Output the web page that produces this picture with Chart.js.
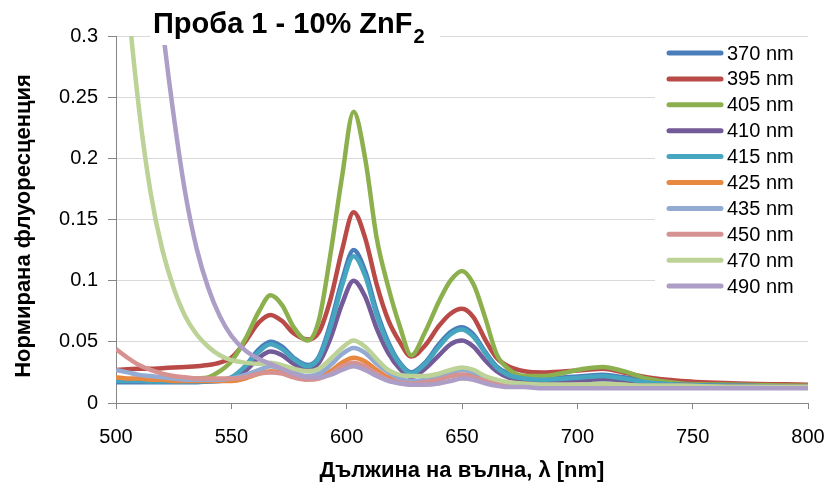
<!DOCTYPE html>
<html>
<head>
<meta charset="utf-8">
<script src="https://cdn.jsdelivr.net/npm/chart.js@4.4.1/dist/chart.umd.min.js"></script>
<style>
  body { margin: 0; background: #fff; }
  #wrap { width: 830px; height: 488px; }
</style>
</head>
<body>
<div id="wrap"><canvas id="grafik" width="830" height="488"></canvas></div>
<script>
// ДАННИ
const wavelengths = [500, 505, 510, 515, 520, 525, 530, 535, 540, 545, 550, 556, 562, 567, 572, 577, 583, 588, 593, 598,
  603, 608, 613, 618, 623, 628, 634, 640, 645, 650, 655, 660, 665, 670, 677, 685, 695, 703, 711, 720, 730, 745, 770, 800];

const s370 = [.017, .017, .017, .017, .017, .017, .017, .017, .0175, .018, .020, .030, .044, .050, .046, .037, .031, .038, .065, .100,
  .125, .108, .075, .050, .033, .025, .033, .048, .058, .062, .056, .042, .030, .024, .021, .020, .021, .022, .023, .021, .018, .016, .014, .013];
const s395 = [.027, .0275, .028, .028, .0285, .029, .0295, .030, .031, .033, .037, .050, .066, .072, .067, .057, .052, .058, .085, .125,
  .156, .135, .097, .068, .050, .038, .047, .063, .073, .077, .070, .052, .037, .030, .026, .025, .026, .027, .028, .025, .021, .018, .016, .015];
const s405 = [.019, .019, .019, .019, .019, .019, .019, .020, .021, .026, .034, .052, .075, .088, .080, .062, .051, .068, .122, .185,
  .238, .200, .135, .095, .063, .039, .058, .083, .100, .108, .097, .070, .040, .028, .022, .022, .025, .028, .0295, .026, .020, .016, .015, .014];
const s410 = [.018, .018, .018, .018, .018, .018, .018, .018, .018, .019, .020, .026, .037, .042, .039, .032, .028, .033, .053, .081,
  .100, .087, .061, .041, .028, .021, .028, .039, .048, .051, .046, .035, .026, .021, .019, .018, .018, .019, .019, .018, .016, .015, .014, .013];
const s415 = [.018, .018, .018, .0175, .0175, .0175, .0175, .0175, .018, .0185, .021, .030, .042, .048, .044, .036, .030, .037, .062, .096,
  .120, .104, .072, .048, .032, .024, .032, .046, .056, .060, .054, .041, .029, .023, .020, .019, .020, .021, .022, .020, .017, .015, .014, .013];
const s425 = [.021, .020, .020, .019, .019, .018, .018, .018, .018, .018, .018, .020, .024, .026, .025, .022, .020, .021, .026, .033,
  .037, .034, .027, .021, .018, .017, .018, .020, .022, .023, .022, .019, .017, .016, .015, .015, .015, .015, .015, .015, .014, .014, .013, .013];
const s435 = [.027, .025, .023, .022, .021, .020, .019, .019, .019, .019, .020, .023, .027, .030, .028, .025, .022, .024, .031, .040,
  .045, .041, .032, .025, .020, .018, .019, .022, .025, .027, .025, .021, .018, .016, .015, .015, .015, .015, .016, .015, .014, .014, .013, .013];
const s450 = [.044, .037, .031, .027, .024, .022, .021, .020, .020, .020, .020, .021, .024, .025, .024, .021, .019, .020, .024, .030,
  .033, .030, .024, .019, .017, .016, .017, .019, .022, .023, .021, .018, .016, .015, .014, .014, .014, .014, .014, .014, .013, .013, .013, .013];
const s470 = [.48, .335, .24, .172, .126, .094, .071, .056, .046, .039, .035, .033, .032, .033, .031, .028, .026, .028, .036, .045,
  .051, .046, .036, .027, .023, .022, .022, .024, .027, .029, .027, .022, .019, .017, .016, .015, .015, .015, .016, .015, .014, .014, .013, .013];
const s490 = [.80, .64, .51, .40, .31, .235, .172, .126, .094, .071, .055, .043, .036, .032, .028, .024, .021, .021, .023, .027,
  .030, .027, .022, .018, .016, .015, .015, .016, .018, .020, .019, .016, .014, .013, .013, .012, .012, .012, .012, .012, .012, .012, .012, .012];

const serii = [s370, s395, s405, s410, s415, s425, s435, s450, s470, s490];
const etiketi = ["370 nm", "395 nm", "405 nm", "410 nm", "415 nm", "425 nm", "435 nm", "450 nm", "470 nm", "490 nm"];
const cvetove = ["#4A7EBB", "#BA4A47", "#8DB04F", "#735A98", "#46A5BF", "#E8873F", "#93AAD2", "#D69290", "#BCD296", "#AC9EC6"];

const SHRIFT = "'Liberation Sans', Arial, sans-serif";

// заглавия и легенда, рисувани върху платното
const nadpisi = {
  id: "nadpisi",
  afterDatasetsDraw(chart) {
    const ctx = chart.ctx;
    ctx.save();

    // заглавие
    ctx.fillStyle = "#fff";
    ctx.fillRect(150, 0, 290, 45);
    ctx.fillStyle = "#000";
    ctx.textBaseline = "alphabetic";
    ctx.textAlign = "left";
    ctx.font = "bold 29px " + SHRIFT;
    const glaven = "Проба 1 - 10% ZnF";
    ctx.fillText(glaven, 153, 33);
    const w = ctx.measureText(glaven).width;
    ctx.font = "bold 20px " + SHRIFT;
    ctx.fillText("2", 153 + w + 1, 43);

    // легенда
    ctx.fillStyle = "#fff";
    ctx.fillRect(655, 40, 175, 258);
    ctx.font = "20px " + SHRIFT;
    ctx.textBaseline = "middle";
    ctx.lineCap = "round";
    etiketi.forEach((t, i) => {
      const y = 53 + i * 25.9;
      ctx.strokeStyle = cvetove[i];
      ctx.lineWidth = 5;
      ctx.beginPath();
      ctx.moveTo(669, y);
      ctx.lineTo(721, y);
      ctx.stroke();
      ctx.fillStyle = "#000";
      ctx.fillText(t, 727, y + 1);
    });

    // надписи на осите
    ctx.font = "bold 22px " + SHRIFT;
    ctx.textAlign = "center";
    ctx.textBaseline = "alphabetic";
    ctx.fillText("Дължина на вълна, λ [nm]", 462, 477);
    ctx.translate(30, 226);
    ctx.rotate(-Math.PI / 2);
    ctx.fillText("Нормирана флуоресценция", 0, 0);
    ctx.restore();
  }
};

const datasets = serii.map((vals, i) => ({
  label: etiketi[i],
  data: wavelengths.map((x, j) => ({ x: x, y: vals[j] })),
  borderColor: cvetove[i],
  backgroundColor: cvetove[i],
  borderWidth: 4.5,
  pointRadius: 0,
  cubicInterpolationMode: "monotone",
  fill: false,
  order: serii.length - i
}));

new Chart(document.getElementById("grafik"), {
  type: "line",
  data: { datasets },
  options: {
    responsive: false,
    animation: false,
    devicePixelRatio: 1,
    layout: { padding: { top: 36, right: 22, left: 0, bottom: 0 } },
    plugins: {
      legend: { display: false },
      tooltip: { enabled: false },
      title: { display: false }
    },
    scales: {
      x: {
        type: "linear",
        min: 500,
        max: 800,
        afterFit: (s) => { s.height = 85; s.paddingLeft = 0; s.paddingRight = 0; },
        ticks: { stepSize: 50, color: "#000", font: { family: SHRIFT, size: 20 }, padding: 16, maxRotation: 0 },
        grid: { drawOnChartArea: false, drawTicks: true, tickLength: 6, tickColor: "#868686" },
        border: { color: "#868686", width: 1 }
      },
      y: {
        min: 0,
        max: 0.3,
        afterFit: (s) => { s.width = 116; s.paddingTop = 0; s.paddingBottom = 0; },
        ticks: {
          stepSize: 0.05,
          color: "#000",
          font: { family: SHRIFT, size: 20 },
          padding: 10,
          callback: (v) => String(+v.toFixed(2))
        },
        grid: { color: "#D9D9D9", lineWidth: 1, tickLength: 8, tickColor: "#868686" },
        border: { color: "#868686", width: 1 }
      }
    }
  },
  plugins: [nadpisi]
});
</script>
</body>
</html>
